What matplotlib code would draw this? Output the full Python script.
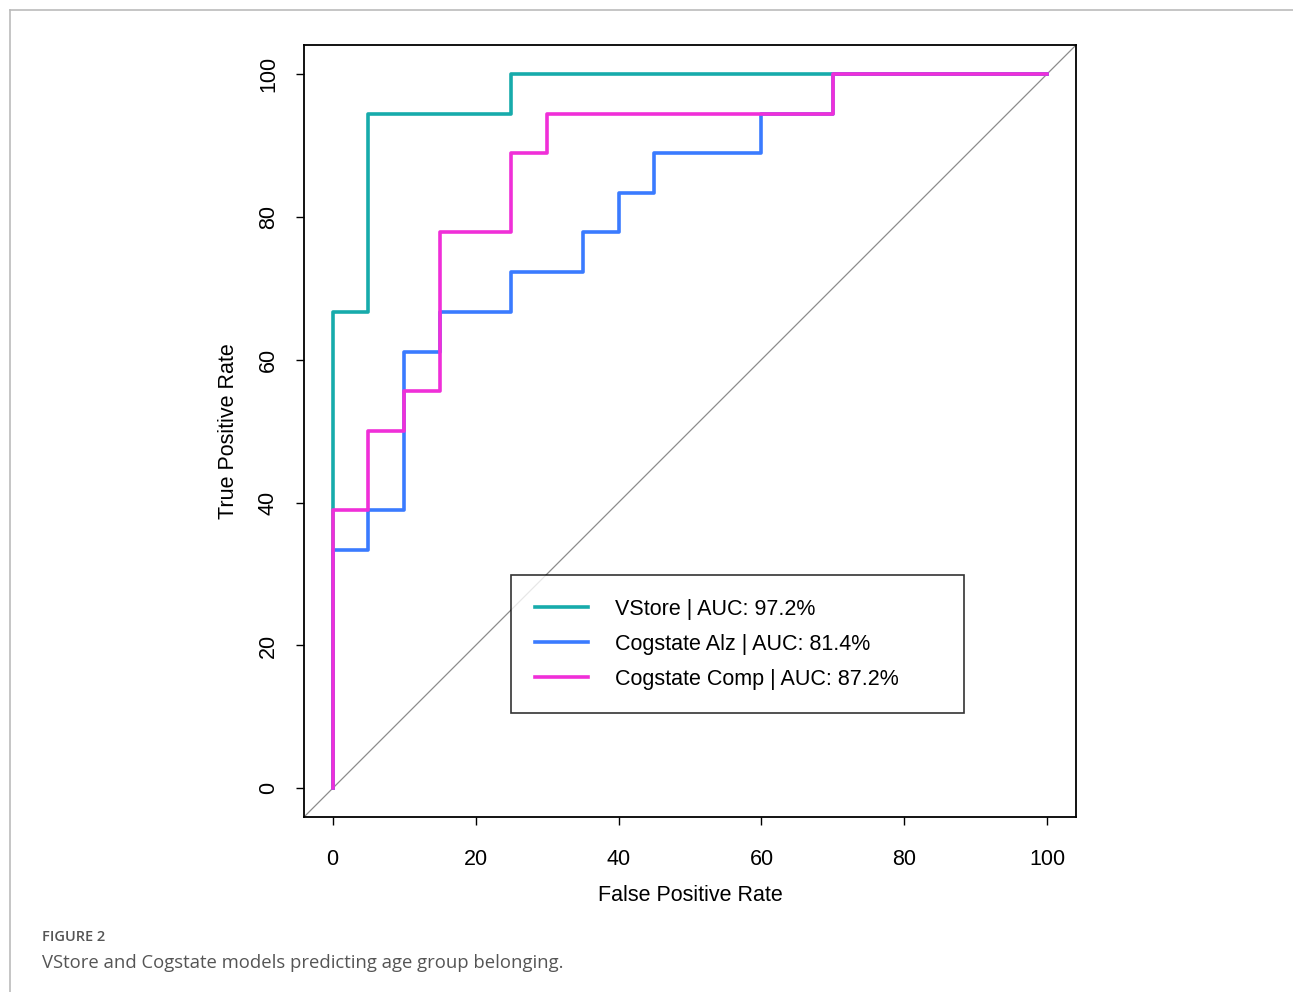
import numpy as np
import matplotlib.pyplot as plt
from matplotlib.lines import Line2D

# ROC curve points (false positive rate, true positive rate, in %)
vstore_fpr = [0, 0, 5, 5, 25, 25, 100]
vstore_tpr = [0, 66.7, 66.7, 94.4, 94.4, 100, 100]

alz_fpr = [0, 0, 5, 5, 10, 10, 15, 15, 25, 25, 35, 35, 40, 40, 45, 45, 60, 60, 70, 70, 100]
alz_tpr = [0, 33.3, 33.3, 38.9, 38.9, 61.1, 61.1, 66.7, 66.7, 72.2, 72.2, 77.8, 77.8,
           83.3, 83.3, 88.9, 88.9, 94.4, 94.4, 100, 100]

comp_fpr = [0, 0, 5, 5, 10, 10, 15, 15, 25, 25, 30, 30, 70, 70, 100]
comp_tpr = [0, 38.9, 38.9, 50, 50, 55.6, 55.6, 77.8, 77.8, 88.9, 88.9, 94.4, 94.4, 100, 100]

labels = ["VStore | AUC: 97.2%", "Cogstate Alz | AUC: 81.4%", "Cogstate Comp | AUC: 87.2%"]
colors = ["#17abab", "#3a7bff", "#f02fd8"]
ticks = [0, 20, 40, 60, 80, 100]

plt.rcParams['font.family'] = ['Liberation Sans', 'DejaVu Sans']

fig = plt.figure(figsize=(12.93, 9.92), dpi=100)

# light grey frame around the figure panel
fig.add_artist(Line2D([9.5 / 1293, 1], [1 - 9.5 / 992] * 2, color="#bbbbbb", lw=1.2))
fig.add_artist(Line2D([9.5 / 1293] * 2, [0, 1 - 9.5 / 992], color="#bbbbbb", lw=1.2))

ax = fig.add_axes([0.2351, 0.1764, 0.5971, 0.7782])
ax.set_xlim(-4, 104)
ax.set_ylim(-4, 104)

# chance diagonal, corner to corner
ax.plot([-4, 104], [-4, 104], color="#8c8c8c", lw=0.9)

ax.plot(vstore_fpr, vstore_tpr, color=colors[0], lw=2.6, label=labels[0])
ax.plot(alz_fpr, alz_tpr, color=colors[1], lw=2.6, label=labels[1])
ax.plot(comp_fpr, comp_tpr, color=colors[2], lw=2.6, label=labels[2])

ax.set_xticks(ticks)
ax.set_yticks(ticks)
ax.tick_params(direction="out", length=6, width=1, labelsize=15.5)
ax.tick_params(axis="x", pad=17)
ax.tick_params(axis="y", labelrotation=90, pad=12)
for lab in ax.get_yticklabels():
    lab.set_verticalalignment("center")
for s in ax.spines.values():
    s.set_linewidth(1.3)

ax.set_xlabel("False Positive Rate", fontsize=15.5, labelpad=11)
ax.set_ylabel("True Positive Rate", fontsize=15.5, labelpad=14)

leg = ax.legend(loc="upper left", bbox_to_anchor=(0.268, 0.1335, 0.587, 0.18), mode="expand",
                fontsize=15.5, frameon=True, fancybox=False, edgecolor="black",
                handlelength=2.5, handletextpad=1.25, borderpad=1.1, labelspacing=0.65,
                borderaxespad=0)
leg.get_frame().set_linewidth(1.2)

fig.text(42 / 1293, 1 - 937 / 992, "FIGURE 2", fontsize=10.5, color="#555555",
         family="Open Sans", weight="semibold", va="center")
fig.text(42 / 1293, 1 - 963 / 992, "VStore and Cogstate models predicting age group belonging.",
         fontsize=13.3, color="#555555", family="Open Sans", va="center")

plt.savefig("out.png", dpi=100)
